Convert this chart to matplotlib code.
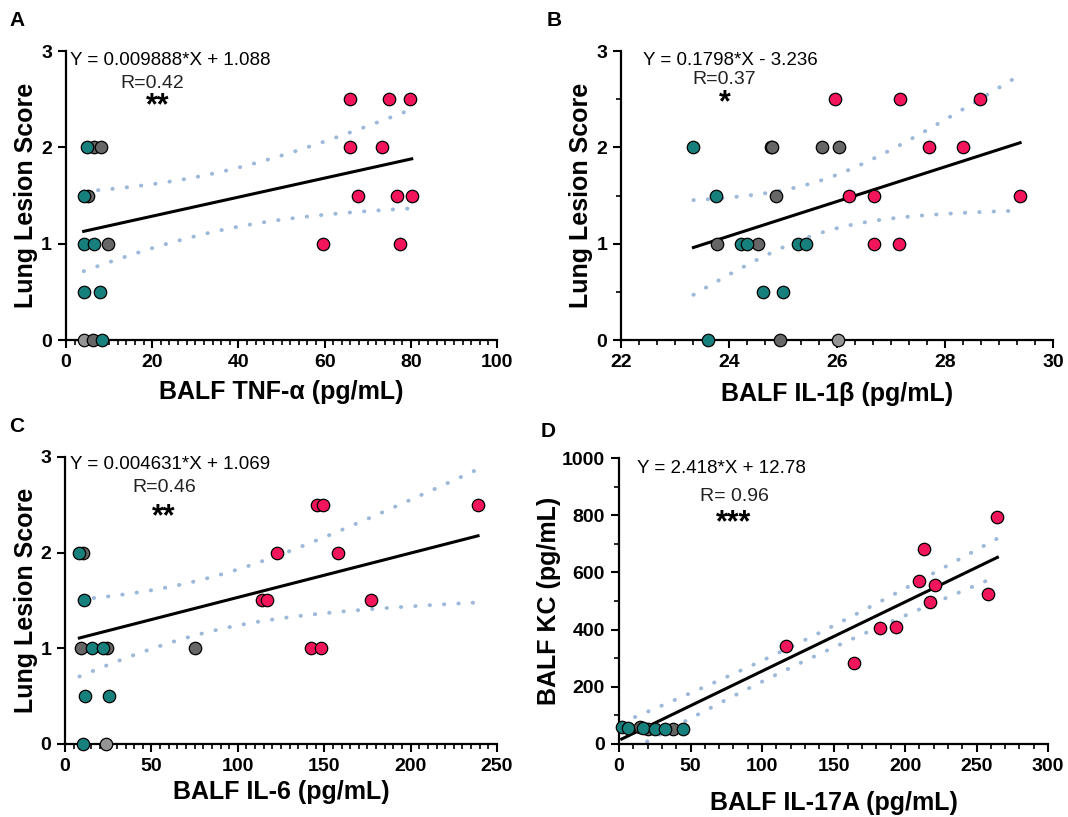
import numpy as np
import matplotlib
matplotlib.use('Agg')
import matplotlib.pyplot as plt
from matplotlib.ticker import MultipleLocator

plt.rcParams['font.family'] = ['Liberation Sans', 'DejaVu Sans']
plt.rcParams['font.weight'] = 'bold'

TEAL = '#17807d'
GRAY = '#666666'
LGRAY = '#959595'
PINK = '#f2155c'
CI_COLOR = '#9db8d9'

# Panel A: TNF-a vs lung lesion score
a_teal_x = [4.9, 4.1, 4.1, 6.6, 4.1, 7.9, 8.3]
a_teal_y = [2, 1.5, 1, 1, 0.5, 0.5, 0]
a_gray_x = [6.6, 8.2, 5.2, 9.8, 6.3]
a_gray_y = [2, 2, 1.5, 1, 0]
a_lgray_x = [4.1]
a_lgray_y = [0]
a_pink_x = [65.8, 75.0, 79.8, 66.0, 73.3, 67.7, 76.9, 80.2, 59.6, 77.6]
a_pink_y = [2.5, 2.5, 2.5, 2, 2, 1.5, 1.5, 1.5, 1, 1]

# Panel B: IL-1b
b_teal_x = [23.34, 23.75, 24.23, 24.33, 25.27, 25.43, 24.62, 24.99, 23.61]
b_teal_y = [2, 1.5, 1, 1, 1, 1, 0.5, 0.5, 0]
b_gray_x = [24.77, 24.80, 25.72, 26.04, 24.87, 23.78, 24.54, 24.94]
b_gray_y = [2, 2, 2, 2, 1.5, 1, 1, 0]
b_lgray_x = [26.01]
b_lgray_y = [0]
b_pink_x = [25.97, 27.17, 28.64, 27.71, 28.33, 26.22, 26.69, 29.39, 26.69, 27.14]
b_pink_y = [2.5, 2.5, 2.5, 2, 2, 1.5, 1.5, 1.5, 1, 1]

# Panel C: IL-6
c_teal_x = [8.3, 11.2, 15.6, 22.2, 11.8, 25.4, 10.2]
c_teal_y = [2, 1.5, 1, 1, 0.5, 0.5, 0]
c_gray_x = [10.6, 9.3, 24.1, 75.2]
c_gray_y = [2, 1, 1, 1]
c_lgray_x = [23.7]
c_lgray_y = [0]
c_pink_x = [145.9, 149.0, 239.0, 122.8, 158.2, 113.7, 117.0, 176.9, 142.3, 148.4]
c_pink_y = [2.5, 2.5, 2.5, 2, 2, 1.5, 1.5, 1.5, 1, 1]

# Panel D: IL-17A vs KC
d_teal_x = [1.9, 6.5, 17.0, 25.2, 32.1, 45.0]
d_teal_y = [58, 56, 55, 51, 51, 51]
d_gray_x = [14.7, 20.5, 38.0]
d_gray_y = [60, 51, 53]
d_lgray_x = []
d_lgray_y = []
d_pink_x = [264.6, 213.1, 209.9, 221.1, 217.3, 257.9, 182.2, 193.8, 116.5, 164.2]
d_pink_y = [792, 682, 570, 555, 496, 524, 407, 409, 343, 282]

# fitted lines as reported in the figure
slopes = [0.009888, 0.1798, 0.004631, 2.418]
intercepts = [1.088, -3.236, 1.069, 12.78]
equations = ['Y = 0.009888*X + 1.088', 'Y = 0.1798*X - 3.236',
             'Y = 0.004631*X + 1.069', 'Y = 2.418*X + 12.78']
r_texts = ['R=0.42', 'R=0.37', 'R=0.46', 'R= 0.96']
stars = ['**', '*', '**', '***']
xlabels = ['BALF TNF-\u03b1 (pg/mL)', 'BALF IL-1\u03b2 (pg/mL)',
           'BALF IL-6 (pg/mL)', 'BALF IL-17A (pg/mL)']
ylabels = ['Lung Lesion Score', 'Lung Lesion Score', 'Lung Lesion Score', 'BALF KC (pg/mL)']
letters = ['A', 'B', 'C', 'D']

fig = plt.figure(figsize=(10.68, 8.17), dpi=100)
rects = [[0.0618, 0.5838, 0.4036, 0.3537],
         [0.5815, 0.5838, 0.4045, 0.3537],
         [0.0609, 0.0894, 0.4045, 0.3513],
         [0.5796, 0.0894, 0.4017, 0.3500]]
limits = [((0, 100), (0, 3)), ((22, 30), (0, 3)), ((0, 250), (0, 3)), ((0, 300), (0, 1000))]
locs = [(20, 2, 1, None), (2, 1 / 3, 1, 0.5), (50, 5, 1, None), (50, 10, 200, 100)]
text_pos = [  # equation, R, stars in axes fraction
    ((0.009, 0.969), (0.20, 0.889), (0.213, 0.808)),
    ((0.051, 0.969), (0.238, 0.903), (0.24, 0.82)),
    ((0.012, 0.972), (0.229, 0.892), (0.229, 0.79)),
    ((0.042, 0.962), (0.268, 0.867), (0.268, 0.772)),
]
ylab_x = [-0.065, -0.064, -0.062, -0.136]
xlab_y = [-0.14, -0.145, -0.125, -0.165]
letter_pos = [(0.009, 0.987), (0.512, 0.987), (0.009, 0.49), (0.506, 0.484)]

groups = [
    [(a_lgray_x, a_lgray_y, LGRAY), (a_gray_x, a_gray_y, GRAY), (a_teal_x, a_teal_y, TEAL), (a_pink_x, a_pink_y, PINK)],
    [(b_lgray_x, b_lgray_y, LGRAY), (b_gray_x, b_gray_y, GRAY), (b_teal_x, b_teal_y, TEAL), (b_pink_x, b_pink_y, PINK)],
    [(c_lgray_x, c_lgray_y, LGRAY), (c_gray_x, c_gray_y, GRAY), (c_teal_x, c_teal_y, TEAL), (c_pink_x, c_pink_y, PINK)],
    [(d_lgray_x, d_lgray_y, LGRAY), (d_gray_x, d_gray_y, GRAY), (d_teal_x, d_teal_y, TEAL), (d_pink_x, d_pink_y, PINK)],
]

T95 = 2.07

for i in range(4):
    ax = fig.add_axes(rects[i])
    xs = np.concatenate([np.asarray(g[0], float) for g in groups[i]])
    ys = np.concatenate([np.asarray(g[1], float) for g in groups[i]])

    # regression line + 95% confidence band
    xx = np.linspace(xs.min(), xs.max(), 100)
    yy = slopes[i] * xx + intercepts[i]
    n = len(xs)
    res = ys - (slopes[i] * xs + intercepts[i])
    se = np.sqrt(np.sum(res ** 2) / (n - 2))
    sxx = np.sum((xs - xs.mean()) ** 2)
    half = T95 * se * np.sqrt(1 / n + (xx - xs.mean()) ** 2 / sxx)
    for band in (yy + half, yy - half):
        ax.plot(xx, band, color=CI_COLOR, lw=2.8, ls=(0, (0.1, 3.6)),
                dash_capstyle='round', zorder=2)
    ax.plot(xx, yy, color='black', lw=2.2, zorder=3)

    for gx, gy, col in groups[i]:
        if len(gx):
            ax.scatter(gx, gy, s=80, color=col, edgecolor='black', linewidth=0.9,
                       zorder=4, clip_on=False)

    ax.set_xlim(*limits[i][0])
    ax.set_ylim(*limits[i][1])
    ax.xaxis.set_major_locator(MultipleLocator(locs[i][0]))
    ax.xaxis.set_minor_locator(MultipleLocator(locs[i][1]))
    ax.yaxis.set_major_locator(MultipleLocator(locs[i][2]))
    if locs[i][3]:
        ax.yaxis.set_minor_locator(MultipleLocator(locs[i][3]))

    for s in ['top', 'right']:
        ax.spines[s].set_visible(False)
    for s in ['left', 'bottom']:
        ax.spines[s].set_linewidth(1.6)
    ax.tick_params(which='major', length=6, width=1.5, labelsize=14, pad=4)
    ax.tick_params(which='minor', length=3.5, width=1.2)

    ax.set_xlabel(xlabels[i], fontsize=18, fontweight='bold')
    ax.set_ylabel(ylabels[i], fontsize=18, fontweight='bold')
    ax.xaxis.set_label_coords(0.5, xlab_y[i])
    ax.yaxis.set_label_coords(ylab_x[i], 0.5)

    ep, rp, sp = text_pos[i]
    ax.text(ep[0], ep[1], equations[i], transform=ax.transAxes, fontsize=13.5,
            fontweight='normal', ha='left', va='center')
    ax.text(rp[0], rp[1], r_texts[i], transform=ax.transAxes, fontsize=14,
            fontweight='normal', ha='center', va='center', color='#222222')
    ax.text(sp[0], sp[1], stars[i], transform=ax.transAxes, fontsize=22,
            fontweight='bold', ha='center', va='center')

    fig.text(letter_pos[i][0], letter_pos[i][1], letters[i], fontsize=15,
             fontweight='bold', ha='left', va='top')

fig.savefig('out.png', dpi=100)
